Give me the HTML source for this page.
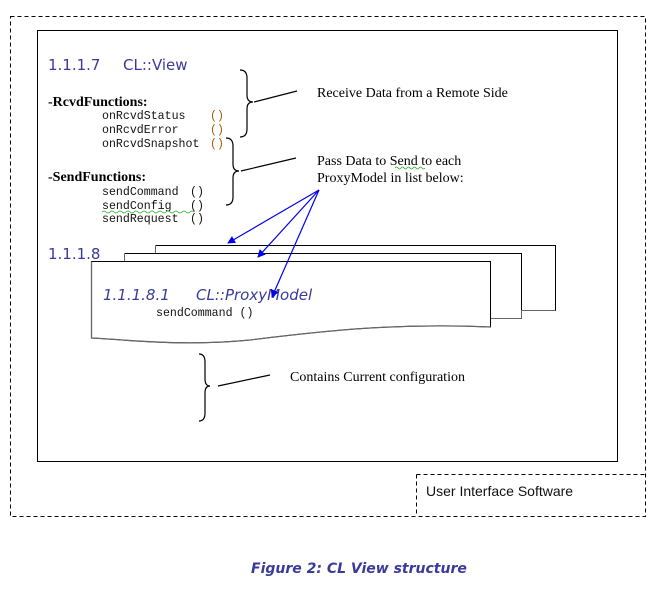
<!DOCTYPE html>
<html><head><style>body{margin:0;background:#fff}svg{display:block}</style></head><body>
<svg width="667" height="597" viewBox="0 0 667 597" xmlns="http://www.w3.org/2000/svg">
<defs>
<marker id="ah" markerWidth="8" markerHeight="8" refX="7" refY="4" orient="auto" markerUnits="userSpaceOnUse"><path d="M0,0 L8,4 L0,8 z" fill="#0000ee"/></marker>
<clipPath id="fc"><rect x="92" y="262" width="397" height="60"/></clipPath>
</defs>
<rect x="10.5" y="16.5" width="635" height="500" fill="none" stroke="#000" stroke-dasharray="4,3"/>
<rect x="37.5" y="30.5" width="580" height="431" fill="#fff" stroke="#000"/>
<path d="M416.5 474.5 H645.5 M416.5 474.5 V516.5" fill="none" stroke="#000" stroke-dasharray="4,3"/>
<text x="426" y="496" font-family="Liberation Sans, sans-serif" font-size="14" fill="#111">User Interface Software</text>
<text x="251" y="573" font-family="DejaVu Sans, sans-serif" font-size="14" font-style="italic" font-weight="bold" fill="#3a3a9a">Figure 2: CL View structure</text>

<text x="48" y="70" font-family="DejaVu Sans, sans-serif" font-size="15" fill="#3a3a9a">1.1.1.7<tspan x="123">CL::View</tspan></text>
<g font-family="Liberation Serif, serif" font-size="14" font-weight="bold"><text x="48" y="106">-RcvdFunctions:</text><text x="48" y="181">-SendFunctions:</text></g>
<g font-family="Liberation Mono, monospace" font-size="11.6" fill="#111">
<text x="102" y="119">onRcvdStatus</text><text x="210" y="119" fill="#a0600a">()</text>
<text x="102" y="133">onRcvdError</text><text x="210" y="133" fill="#a0600a">()</text>
<text x="102" y="147">onRcvdSnapshot</text><text x="210" y="147" fill="#a0600a">()</text>
<text x="102" y="195">sendCommand</text><text x="190" y="195">()</text>
<text x="102" y="209">sendConfig</text><text x="190" y="209">()</text>
<text x="102" y="222">sendRequest</text><text x="190" y="222">()</text>
</g>
<path d="M102 212 q2 -2 4 0 t4 0 t4 0 t4 0 t4 0 t4 0 t4 0 t4 0 t4 0 t4 0 t4 0 t4 0 t4 0 t4 0 t4 0 t4 0 t4 0 t4 0 t4 0 t4 0 t4 0 t4 0 t4 0" fill="none" stroke="#2a2" stroke-width="0.7"/>
<text x="48" y="259" font-family="DejaVu Sans, sans-serif" font-size="15" fill="#3a3a9a">1.1.1.8</text>

<g font-family="Liberation Serif, serif" font-size="14" fill="#000">
<text x="317" y="97">Receive Data from a Remote Side</text>
<text x="317" y="165">Pass Data to Send to each</text>
<text x="317" y="182">ProxyModel in list below:</text>
<text x="290" y="381">Contains Current configuration</text>
</g>
<path d="M395 168 q1.5 -2 3 0 t3 0 t3 0 t3 0 t3 0 t3 0 t3 0 t3 0 t3 0 t3 0" fill="none" stroke="#2a2" stroke-width="0.7"/>

<g fill="none" stroke="#000" stroke-width="1.2">
<path d="M240 70 q7 0 7 8 v17 q0 7 6 7 q-6 0 -6 7 v20 q0 8 -7 8"/>
<path d="M254 102 L297 91"/>
<path d="M226 138 q7 0 7 8 v18 q0 7 6 7 q-6 0 -6 7 v19 q0 8 -7 8"/>
<path d="M241 171 L296 158"/>
<path d="M199 354 q6 0 6 8 v17 q0 7 5 7 q-5 0 -5 7 v20 q0 8 -6 8"/>
<path d="M218 386 L270 375"/>
</g>

<path d="M155.5 245.5 H555.5 V310.5 H521" fill="#fff" stroke="#000"/>
<path d="M155.5 253 V245.5" stroke="#666" fill="none"/>
<path d="M124.5 253.5 H521.5 V318.5 H490" fill="#fff" stroke="#000"/>
<path d="M124.5 261 V253.5" stroke="#666" fill="none"/>
<path d="M521.5 310 V318.5 H490" fill="none" stroke="#666"/>
<path d="M555.5 310.5 H521.5" fill="none" stroke="#666"/>
<path d="M91.5 261.5 H490.5 V327 C400 323 330 330 250 340 C180 347 120 339 91.5 338 Z" fill="#fff" stroke="#000"/>
<path d="M91.5 261.5 V338 C120 339 180 347 250 340 C330 330 400 323 490.5 327" fill="none" stroke="#666" stroke-width="1.3"/>
<text x="103" y="300" font-family="DejaVu Sans, sans-serif" font-size="15" font-style="italic" fill="#3a3a9a">1.1.1.8.1<tspan x="196">CL::ProxyModel</tspan></text>
<g clip-path="url(#fc)" font-family="Liberation Mono, monospace" font-size="11.6" fill="#111">
<text x="156" y="316">sendCommand  ()</text>
<text x="156" y="331">sendConfig  ()    SendData</text>
</g>

<g stroke="#0000ee" stroke-width="1.2" fill="none">
<line x1="319" y1="190" x2="228" y2="243" marker-end="url(#ah)"/>
<line x1="319" y1="190" x2="258" y2="257" marker-end="url(#ah)"/>
<line x1="319" y1="190" x2="272" y2="297" marker-end="url(#ah)"/>
</g>
</svg>
</body></html>
